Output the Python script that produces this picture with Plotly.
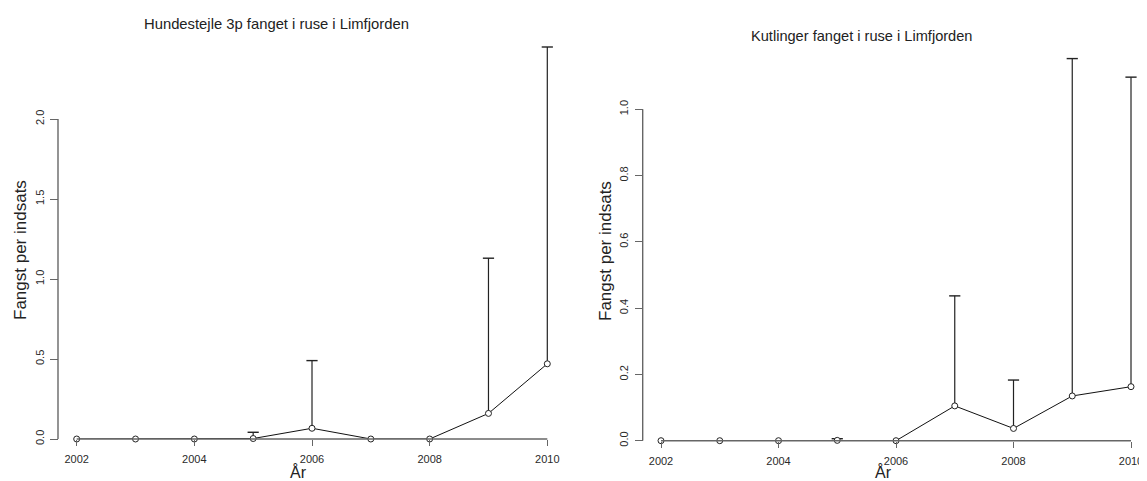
import plotly.graph_objects as go

# page is rendered with an 8px body margin; the figure is sized to fill the rest
OFF = 8
W, H = 1147 - OFF, 481 - OFF

# ---- data ----
years = [2002, 2003, 2004, 2005, 2006, 2007, 2008, 2009, 2010]
hund_mean = [0, 0, 0, 0.003, 0.067, 0, 0, 0.16, 0.47]
hund_upper = [None, None, None, 0.042, 0.49, None, None, 1.13, 2.45]
kut_mean = [0, 0, 0, 0.001, 0, 0.105, 0.037, 0.135, 0.163]
kut_upper = [None, None, None, 0.006, None, 0.437, 0.183, 1.153, 1.097]

x_ticks = [2002, 2004, 2006, 2008, 2010]
hund_yticks = [0, 0.5, 1.0, 1.5, 2.0]
hund_yticktext = ["0.0", "0.5", "1.0", "1.5", "2.0"]
kut_yticks = [0, 0.2, 0.4, 0.6, 0.8, 1.0]
kut_yticktext = ["0.0", "0.2", "0.4", "0.6", "0.8", "1.0"]

title_left = "Hundestejle 3p fanget i ruse i Limfjorden"
title_right = "Kutlinger fanget i ruse i Limfjorden"
ylab = "Fangst per indsats"
xlab = "År"

FONT = "Liberation Sans, Arial, sans-serif"
AX = "#666666"
TXT = "#2a2a2a"
INK = "#222222"


def fx(px):
    return (px - OFF) / W


def fy(py):
    return 1 - (py - OFF) / H


def seg(xs, means, uppers):
    sx, sy, cx, cy = [], [], [], []
    for x, m, u in zip(xs, means, uppers):
        if u is None:
            continue
        sx += [x, x, None]
        sy += [m, u, None]
        cx.append(x)
        cy.append(u)
    return sx, sy, cx, cy


fig = go.Figure()

for xa, ya, means, uppers in [("x", "y", hund_mean, hund_upper),
                              ("x2", "y2", kut_mean, kut_upper)]:
    sx, sy, cx, cy = seg(years, means, uppers)
    fig.add_trace(go.Scatter(x=sx, y=sy, mode="lines", xaxis=xa, yaxis=ya,
                             line=dict(color=INK, width=1.2),
                             hoverinfo="skip", showlegend=False, cliponaxis=False))
    fig.add_trace(go.Scatter(x=cx, y=cy, mode="markers", xaxis=xa, yaxis=ya,
                             marker=dict(symbol="line-ew-open", size=8, color=INK,
                                         line=dict(color=INK, width=1.4)),
                             hoverinfo="skip", showlegend=False, cliponaxis=False))
    fig.add_trace(go.Scatter(x=years, y=means, mode="lines+markers", xaxis=xa, yaxis=ya,
                             line=dict(color="#111111", width=1),
                             marker=dict(symbol="circle", size=6, color="white",
                                         line=dict(color=INK, width=1)),
                             showlegend=False, cliponaxis=False))

xcommon = dict(showline=False, ticks="outside", ticklen=6,
               tickwidth=1.4, tickcolor=AX, tickvals=x_ticks, showgrid=False, zeroline=False,
               tickfont=dict(family=FONT, size=11, color=TXT), ticklabelstandoff=4,
               ticklabeloverflow="allow", automargin=False)
ycommon = dict(showline=False, ticks="outside", ticklen=8, tickwidth=1.4, tickcolor=AX,
               showgrid=False, zeroline=False, tickangle=-90, automargin=False,
               ticklabeloverflow="allow",
               tickfont=dict(family=FONT, size=11, color=TXT), ticklabelstandoff=2)

# left panel: 2002 at px 76.7, 2010 at px 547.3; right: 661 / 1131
lpy = (547.3 - 76.7) / 8
rpy = (1131 - 661) / 8

fig.update_layout(
    width=W, height=H,
    margin=dict(l=0, r=0, t=0, b=0, pad=0, autoexpand=False),
    paper_bgcolor="white", plot_bgcolor="white",
    font=dict(family=FONT, color=TXT),
    showlegend=False,
    xaxis=dict(domain=[fx(76.7 - 0.3 * lpy), fx(547.3 + 0.3 * lpy)], range=[2001.7, 2010.3],
               anchor="y", **xcommon),
    yaxis=dict(domain=[fy(439), fy(39)], range=[0, 2.5], anchor="free", position=fx(58),
               tickvals=hund_yticks, ticktext=hund_yticktext, **ycommon),
    xaxis2=dict(domain=[fx(661 - 0.3 * rpy), fx(1131 + 0.12 * rpy)], range=[2001.7, 2010.12],
                anchor="y2", **xcommon),
    yaxis2=dict(domain=[fy(440.7), fy(43)], range=[0, 1.2], anchor="free", position=fx(642.7),
                tickvals=kut_yticks, ticktext=kut_yticktext, **ycommon),
)

# R-style axis lines spanning only the tick range
fig.add_shape(type="line", xref="paper", yref="y", x0=fx(58), x1=fx(58),
              y0=hund_yticks[0], y1=hund_yticks[-1], line=dict(color=AX, width=1.4))
fig.add_shape(type="line", xref="paper", yref="y2", x0=fx(642.7), x1=fx(642.7),
              y0=kut_yticks[0], y1=kut_yticks[-1], line=dict(color=AX, width=1.4))
for xr, yr in [("x", "y domain"), ("x2", "y2 domain")]:
    fig.add_shape(type="line", xref=xr, yref=yr, x0=x_ticks[0], x1=x_ticks[-1],
                  y0=0, y1=0, line=dict(color=AX, width=1.4))

ann = [
    dict(text=title_left, x=fx(276), y=fy(24), size=14.8),
    dict(text=title_right, x=fx(861), y=fy(36), size=14.6),
    dict(text=xlab, x=fx(298), y=fy(472), size=16),
    dict(text=xlab, x=fx(883), y=fy(472), size=16),
]
for a in ann:
    fig.add_annotation(text=a["text"], x=a["x"], y=a["y"], xref="paper", yref="paper",
                       showarrow=False, xanchor="center", yanchor="middle",
                       font=dict(family=FONT, size=a["size"], color=INK))
for xpos, ypos in [(20, 250), (605, 251)]:
    fig.add_annotation(text=ylab, x=fx(xpos), y=fy(ypos), xref="paper", yref="paper",
                       showarrow=False, xanchor="center", yanchor="middle", textangle=-90,
                       font=dict(family=FONT, size=17, color=INK))

fig.write_html("out.html")
